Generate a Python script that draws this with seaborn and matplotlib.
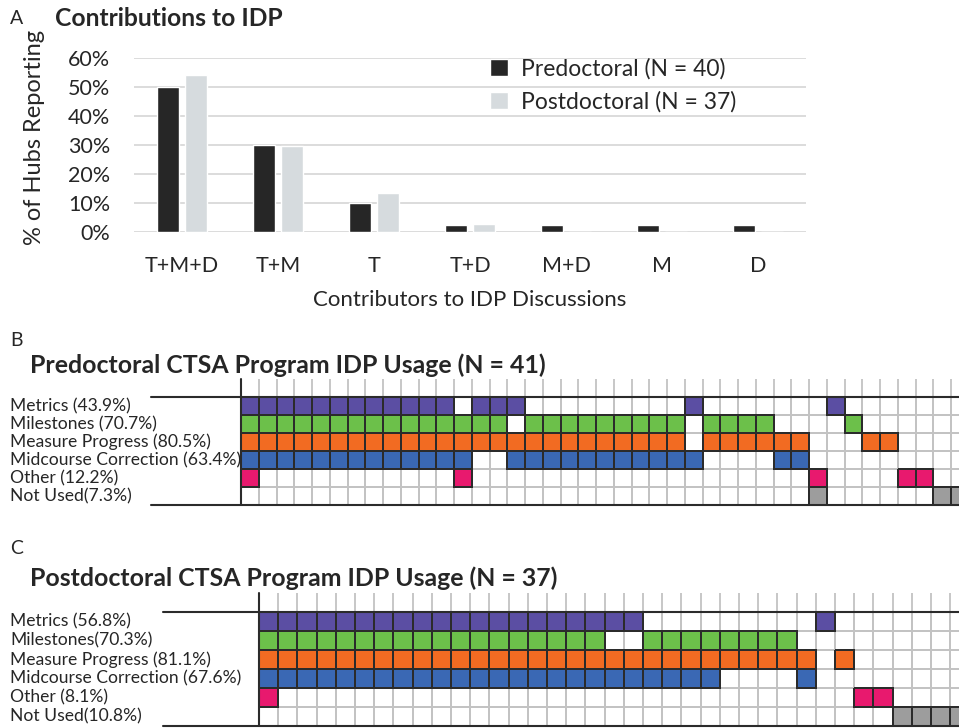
import numpy as np
import pandas as pd
import matplotlib
matplotlib.use("Agg")
import matplotlib.pyplot as plt
from matplotlib.colors import ListedColormap, to_rgba
from matplotlib.transforms import blended_transform_factory
import seaborn as sns

# ---------------- Panel A: who contributes to IDP discussions ----------------
contributors = ["T+M+D", "T+M", "T", "T+D", "M+D", "M", "D"]
predoc_pct = [50.0, 30.0, 10.0, 2.5, 2.5, 2.5, 2.5]
postdoc_pct = [54.1, 29.7, 13.5, 2.7, 0.0, 0.0, 0.0]
group_labels = ["Predoctoral (N = 40)", "Postdoctoral (N = 37)"]
y_ticks = [0, 10, 20, 30, 40, 50, 60]

# ---------------- Panels B and C: IDP usage per hub ----------------
usage_colors = ["#5b4ea3", "#6cc04a", "#f26b22", "#3a68b4", "#e8196e", "#9d9d9d"]

predoc_n = 41
predoc_labels = ["Metrics (43.9%)", "Milestones (70.7%)", "Measure Progress (80.5%)",
                 "Midcourse Correction (63.4%)", "Other (12.2%)", "Not Used(7.3%)"]
# hub columns (1-based) where each element is used
predoc_metrics = [1, 2, 3, 4, 5, 6, 7, 8, 9, 10, 11, 12, 14, 15, 16, 26, 34]
predoc_milestones = [1, 2, 3, 4, 5, 6, 7, 8, 9, 10, 11, 12, 13, 14, 15,
                     17, 18, 19, 20, 21, 22, 23, 24, 25, 27, 28, 29, 30, 35]
predoc_measure = [1, 2, 3, 4, 5, 6, 7, 8, 9, 10, 11, 12, 13, 14, 15, 16, 17, 18, 19,
                  20, 21, 22, 23, 24, 25, 27, 28, 29, 30, 31, 32, 36, 37]
predoc_midcourse = [1, 2, 3, 4, 5, 6, 7, 8, 9, 10, 11, 12, 13,
                    16, 17, 18, 19, 20, 21, 22, 23, 24, 25, 26, 31, 32]
predoc_other = [1, 13, 33, 38, 39]
predoc_not_used = [33, 40, 41]

postdoc_n = 37
postdoc_labels = ["Metrics (56.8%)", "Milestones(70.3%)", "Measure Progress (81.1%)",
                  "Midcourse Correction (67.6%)", "Other (8.1%)", "Not Used(10.8%)"]
postdoc_metrics = [1, 2, 3, 4, 5, 6, 7, 8, 9, 10, 11, 12, 13, 14, 15, 16, 17, 18, 19, 20, 30]
postdoc_milestones = [1, 2, 3, 4, 5, 6, 7, 8, 9, 10, 11, 12, 13, 14, 15, 16, 17, 18,
                      21, 22, 23, 24, 25, 26, 27, 28]
postdoc_measure = [1, 2, 3, 4, 5, 6, 7, 8, 9, 10, 11, 12, 13, 14, 15, 16, 17, 18, 19,
                   20, 21, 22, 23, 24, 25, 26, 27, 28, 29, 31]
postdoc_midcourse = [1, 2, 3, 4, 5, 6, 7, 8, 9, 10, 11, 12, 13, 14, 15, 16, 17, 18,
                     19, 20, 21, 22, 23, 24, 29]
postdoc_other = [1, 32, 33]
postdoc_not_used = [34, 35, 36, 37]

# ---------------- figure setup ----------------
sns.set_style("white")
plt.rcParams["font.family"] = ["Lato", "DejaVu Sans"]
plt.rcParams["text.color"] = "#262626"

W, H = 959, 728
fig = plt.figure(figsize=(W / 100, H / 100), dpi=100)
fig.patch.set_facecolor("white")


def px_axes(left, top, width, height):
    return fig.add_axes([left / W, 1 - (top + height) / H, width / W, height / H])


def fig_text(x, y, s, **kw):
    return fig.text(x / W, 1 - y / H, s, **kw)


# ---------------- Panel A ----------------
dark, light = "#262626", "#d6dbde"
df = pd.DataFrame({
    "contributor": contributors * 2,
    "pct": predoc_pct + postdoc_pct,
    "group": [group_labels[0]] * len(contributors) + [group_labels[1]] * len(contributors),
})
axA = px_axes(134, 58, 672, 174)
sns.barplot(data=df, x="contributor", y="pct", hue="group", order=contributors,
            hue_order=group_labels, palette=[dark, light], width=0.57, gap=0.2,
            saturation=1, ax=axA, zorder=3)
axA.set_ylim(0, 60)
axA.set_yticks(y_ticks)
axA.set_yticklabels([f"{t}%" for t in y_ticks])
axA.yaxis.grid(True, color="#d9d9d9", lw=1.3, zorder=0)
axA.set_axisbelow(True)
for s in axA.spines.values():
    s.set_visible(False)
axA.tick_params(axis="both", length=0, labelsize=15.5, colors="#262626")
axA.tick_params(axis="y", pad=17)
axA.tick_params(axis="x", pad=17)
axA.set_ylabel("")
axA.set_xlabel("Contributors to IDP Discussions", fontsize=16, labelpad=10, color="#262626")
leg = axA.legend(loc="upper left", bbox_to_anchor=((490 - 134) / 672, 1.0), frameon=False,
                 fontsize=16.5, handlelength=0.8, handleheight=0.8, handletextpad=0.55,
                 labelspacing=0.5, borderaxespad=0, borderpad=0)
fig_text(35, 137, "% of Hubs Reporting", rotation=90, ha="center", va="center", fontsize=17)
fig_text(10, 18, "A", fontsize=14, va="center", ha="left")
fig_text(55, 18, "Contributions to IDP", fontsize=17.7, fontweight="bold", va="center", ha="left")


# ---------------- Panels B / C ----------------
def usage_panel(left, top, cell_w, cell_h, n, rows, labels, label_x, line_x0):
    grid = np.zeros((len(rows), n))
    for r, cols in enumerate(rows):
        for c in cols:
            grid[r, c - 1] = r + 1
    ax = px_axes(left, top - cell_h, n * cell_w, cell_h * (len(rows) + 1))
    # empty table: white cells with light grey rules
    sns.heatmap(np.zeros_like(grid), cmap=ListedColormap(["white"]), cbar=False,
                linewidths=1.3, linecolor="#c3c3c3", xticklabels=False,
                yticklabels=False, ax=ax)
    # used elements: coloured cells outlined in near-black
    sns.heatmap(grid, mask=grid == 0, cmap=ListedColormap(usage_colors), vmin=0.5,
                vmax=6.5, cbar=False, linewidths=1.2, linecolor="#2b2b2b",
                xticklabels=False, yticklabels=False, ax=ax)
    mesh = ax.collections[-1]
    edge = np.array([to_rgba("#2b2b2b") if v > 0 else (0, 0, 0, 0)
                     for v in grid.ravel()])
    mesh.set_edgecolor(edge)
    ax.set_ylim(len(rows), -1)
    ax.set_xlim(0, n)
    # open header row above the table
    ax.vlines(np.arange(1, n + 1), -1, 0, colors="#c3c3c3", lw=1.3)
    ax.plot([0, 0], [-1, len(rows)], color="#2b2b2b", lw=1.5, clip_on=False, zorder=5)
    tr = blended_transform_factory(fig.transFigure, ax.transData)
    ax.plot([line_x0 / W, 1.0], [0, 0], color="#2b2b2b", lw=1.5, transform=tr,
            clip_on=False, zorder=5)
    ax.plot([line_x0 / W, 1.0], [len(rows), len(rows)], color="#2b2b2b", lw=1.5,
            transform=tr, clip_on=False, zorder=5)
    for r, lab in enumerate(labels):
        ax.text(label_x / W, r + 0.5, lab, transform=tr, ha="left", va="center",
                fontsize=12.6, color="#262626")
    for s in ax.spines.values():
        s.set_visible(False)
    return ax


fig_text(10, 340, "B", fontsize=14, va="center", ha="left")
fig_text(30, 365, "Predoctoral CTSA Program IDP Usage (N = 41)", fontsize=17.9,
         fontweight="bold", va="center", ha="left")
usage_panel(241, 397, 17.75, 18.0, predoc_n,
            [predoc_metrics, predoc_milestones, predoc_measure, predoc_midcourse,
             predoc_other, predoc_not_used], predoc_labels, 10, 151)

fig_text(10, 548, "C", fontsize=14, va="center", ha="left")
fig_text(30, 578, "Postdoctoral CTSA Program IDP Usage (N = 37)", fontsize=17.9,
         fontweight="bold", va="center", ha="left")
usage_panel(259, 612, 19.2, 19.0, postdoc_n,
            [postdoc_metrics, postdoc_milestones, postdoc_measure, postdoc_midcourse,
             postdoc_other, postdoc_not_used], postdoc_labels, 10, 163)

fig.savefig("out.png", dpi=100, facecolor="white")
